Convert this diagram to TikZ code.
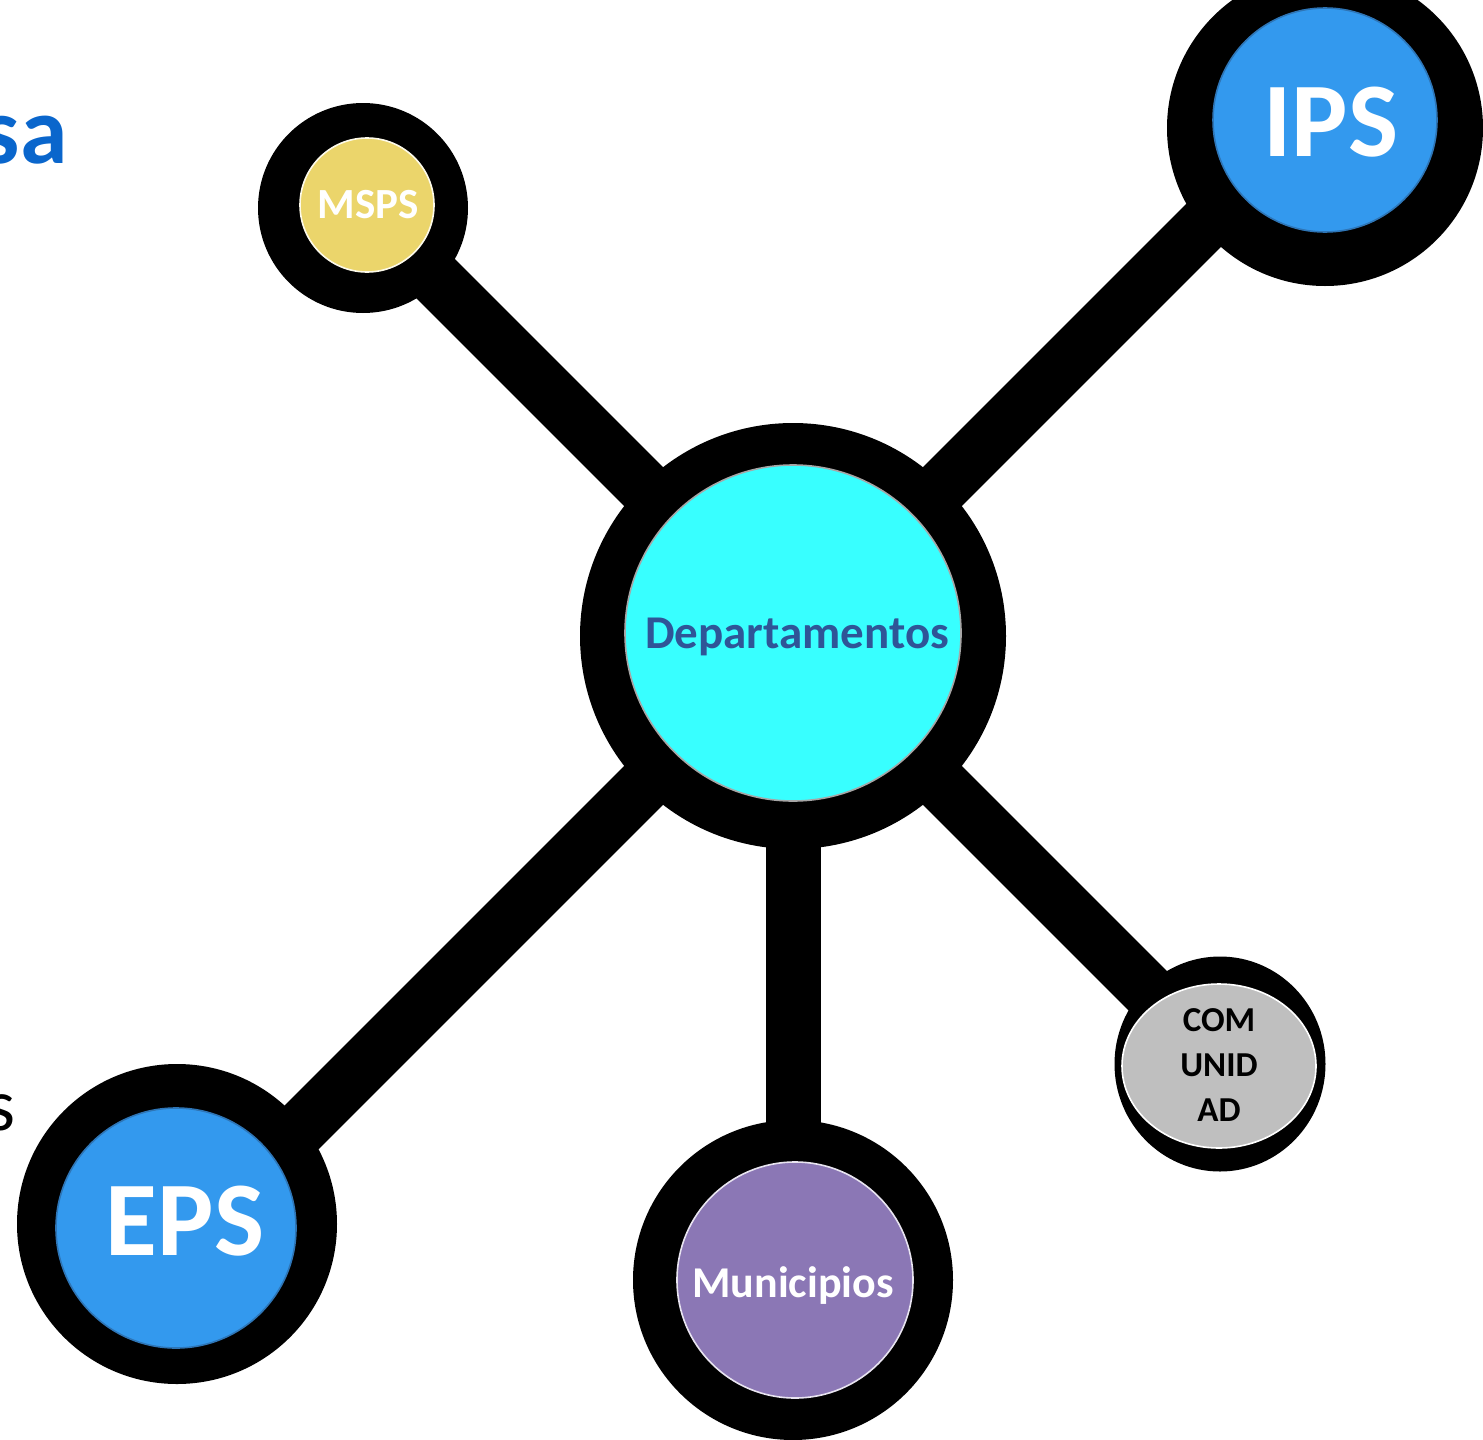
\documentclass[tikz,border=0pt]{standalone}
\usepackage{fontspec}
\setmainfont{Carlito}
\usetikzlibrary{shapes.geometric}
\definecolor{mspsY}{HTML}{EBD56B}
\definecolor{blueC}{HTML}{3399EE}
\definecolor{blueB}{HTML}{2E75B6}
\definecolor{cyanC}{HTML}{38FFFF}
\definecolor{deptT}{HTML}{2F5597}
\definecolor{purpC}{HTML}{8B77B5}
\definecolor{greyC}{HTML}{BFBFBF}
\definecolor{titleB}{HTML}{0A66CC}
\begin{document}
\begin{tikzpicture}[x=0.5pt,y=-0.5pt,
  ring/.style={circle, fill=black, inner sep=0pt, minimum size=#1},
  disc/.style={circle, inner sep=0pt, minimum size=#1, line width=0.8pt},
  label/.style={inner sep=0pt},
  link/.style={line width=27.5pt, black}]
\useasboundingbox (0,0) rectangle (1483,1440);
% centers of the rings
\coordinate (cM) at (363,208);
\coordinate (cI) at (1325,128);
\coordinate (cD) at (793,636);
\coordinate (cE) at (177,1224);
\coordinate (cU) at (793,1280);
\coordinate (cC) at (1220,1064);
% ends of the connectors (hidden under the rings, lines at 45 degrees)
\coordinate (tM) at (363,206);
\coordinate (tI) at (1325,104);
\coordinate (tE) at (177,1252);
\coordinate (tC) at (1220,1063);
% connectors
\draw[link] (cD) -- (tM);
\draw[link] (cD) -- (tI);
\draw[link] (cD) -- (tE);
\draw[link] (cD) -- (cU);
\draw[link] (cD) -- (tC);
% black rings
\node[ring=105pt] (rM) at (cM) {};
\node[ring=158pt] (rI) at (cI) {};
\node[ring=213pt] (rD) at (cD) {};
\node[ring=160pt] (rE) at (cE) {};
\node[ring=160pt] (rU) at (cU) {};
\node[ellipse, fill=black, inner sep=0pt, minimum width=105.5pt, minimum height=107.5pt] (rC) at (cC) {};
% inner discs
\node[disc=67pt, fill=mspsY, draw=white!85!mspsY] (msps) at (367,205) {};
\node[disc=112pt, fill=blueC, draw=blueB] (ips) at (1325,120) {};
\node[disc=168pt, fill=cyanC, draw=gray!70] (dep) at (793,633) {};
\node[disc=120pt, fill=blueC, draw=blueB] (eps) at (176,1228) {};
\node[disc=118pt, fill=purpC, draw=white!80!purpC] (mun) at (795,1280) {};
\node[ellipse, inner sep=0pt, minimum width=97pt, minimum height=82pt, fill=greyC, draw=white, line width=0.8pt] (com) at (1219,1066) {};
% texts
\node[label, anchor=base, text=white, font=\fontsize{21.5pt}{24pt}\selectfont\bfseries] (tmsps) at (368,218) {MSPS};
\node[label, anchor=base, text=white, font=\fontsize{53pt}{60pt}\selectfont\bfseries] (tips) at (1331,156) {IPS};
\node[label, anchor=base, text=deptT, font=\fontsize{23.5pt}{26pt}\selectfont\bfseries] (tdep) at (797,648) {Departamentos};
\node[label, anchor=base, text=white, font=\fontsize{53pt}{60pt}\selectfont\bfseries] (teps) at (185,1255) {EPS};
\node[label, anchor=base, text=white, font=\fontsize{22pt}{25pt}\selectfont\bfseries] (tmun) at (793,1297) {Municipios};
\node[label, anchor=north, align=center, text=black, font=\fontsize{17.5pt}{22.5pt}\selectfont\bfseries] (tcom) at (1219,1008) {COM\\UNID\\AD};
% partial texts at the left edge
\node[label, anchor=base east, text=titleB, font=\fontsize{48pt}{56pt}\selectfont\bfseries] (title) at (68,163) {sa};
\node[label, anchor=base east, text=black, font=\fontsize{37pt}{44pt}\selectfont] (side) at (16,1130) {s};
\end{tikzpicture}
\end{document}
